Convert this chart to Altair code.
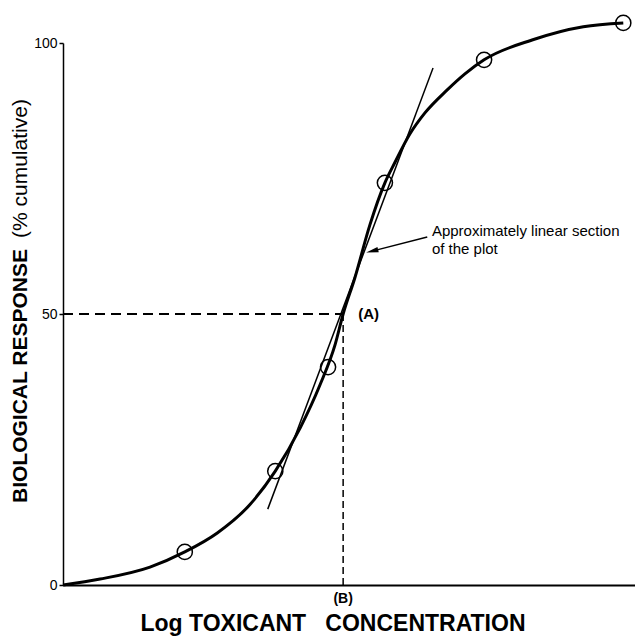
import altair as alt
import pandas as pd

# ---- data ----
curve_x = [0, 0.64, 1.50, 2.10, 2.66, 3.22, 3.66, 4.09, 4.43, 4.69, 4.83, 5.03, 5.29, 5.55,
           5.72, 5.98, 6.24, 6.62, 6.93, 7.26, 8.10, 8.97, 9.66]
curve_y = [0, 1.1, 3.3, 6.1, 9.6, 14.8, 21.0, 29.0, 36.9, 44.3, 50.0, 56.6, 66.4, 74.2,
           77.9, 83.2, 87.1, 91.3, 94.3, 96.9, 100.6, 103.0, 103.7]

obs_x = [2.10, 3.66, 4.57, 5.55, 7.26, 9.66]
obs_y = [6.1, 21.0, 40.2, 74.2, 96.9, 103.7]

tangent_x = [3.53, 6.38]
tangent_y = [14.0, 95.4]

ld50_x = 4.83
ld50_y = 50

y_ticks = [0, 50, 100]

note_lines = ["Approximately linear section", "of the plot"]
note_x = 6.36
note_y = [64.3, 61.1]
arrow_tail = (6.28, 64.2)
arrow_head = (5.33, 61.6)

label_a = "(A)"
label_b = "(B)"
x_title = "Log TOXICANT\u00a0\u00a0\u00a0CONCENTRATION"
y_title_bold = "BIOLOGICAL RESPONSE"
y_title_normal = "(% cumulative)"

FONT = "Liberation Sans"

# plot is 572 px wide; keep the reference's 58 px per x unit
x_scale = alt.Scale(domain=[0, 9.862], nice=False, zero=False)
y_scale = alt.Scale(domain=[0, 100], nice=False, zero=False)

curve_df = pd.DataFrame({"x": curve_x, "y": curve_y})
obs_df = pd.DataFrame({"x": obs_x, "y": obs_y})
tan_df = pd.DataFrame({"x": tangent_x, "y": tangent_y})

curve = alt.Chart(curve_df).mark_line(
    color="black", strokeWidth=3, interpolate="monotone"
).encode(
    x=alt.X("x:Q", scale=x_scale, axis=alt.Axis(
        title=None, labels=False, ticks=False, grid=False,
        domainColor="black", domainWidth=2)),
    y=alt.Y("y:Q", scale=y_scale, axis=alt.Axis(
        title=None, values=y_ticks, grid=False, labelFont=FONT,
        labelFontSize=14, labelColor="black", labelPadding=2,
        tickColor="black", tickSize=4, tickWidth=1.5,
        domainColor="black", domainWidth=1.5)),
)

tangent = alt.Chart(tan_df).mark_line(color="black", strokeWidth=1.5).encode(
    x=alt.X("x:Q", scale=x_scale), y=alt.Y("y:Q", scale=y_scale))

points = alt.Chart(obs_df).mark_point(
    shape="circle", size=230, filled=False, stroke="black",
    strokeWidth=1.5, opacity=1
).encode(x=alt.X("x:Q", scale=x_scale), y=alt.Y("y:Q", scale=y_scale))

hdash = alt.Chart(pd.DataFrame({"x": [0], "x2": [ld50_x], "y": [ld50_y]})).mark_rule(
    color="black", strokeWidth=2, strokeDash=[10, 6]
).encode(x=alt.X("x:Q", scale=x_scale), x2="x2:Q", y=alt.Y("y:Q", scale=y_scale))

vdash = alt.Chart(pd.DataFrame({"x": [ld50_x], "y": [0], "y2": [ld50_y]})).mark_rule(
    color="black", strokeWidth=1.5, strokeDash=[7, 4]
).encode(x=alt.X("x:Q", scale=x_scale), y=alt.Y("y:Q", scale=y_scale), y2="y2:Q")

note = alt.Chart(pd.DataFrame({"x": [note_x] * 2, "y": note_y, "t": note_lines})).mark_text(
    align="left", baseline="alphabetic", font=FONT, fontSize=15, color="black"
).encode(x=alt.X("x:Q", scale=x_scale), y=alt.Y("y:Q", scale=y_scale), text="t:N")

arrow_line = alt.Chart(pd.DataFrame({
    "x": [arrow_tail[0]], "y": [arrow_tail[1]],
    "x2": [arrow_head[0]], "y2": [arrow_head[1]]})).mark_rule(
    color="black", strokeWidth=1.5
).encode(x=alt.X("x:Q", scale=x_scale), y=alt.Y("y:Q", scale=y_scale), x2="x2:Q", y2="y2:Q")

arrow_tip = alt.Chart(pd.DataFrame({"x": [arrow_head[0]], "y": [arrow_head[1]]})).mark_point(
    shape="M0,-1L0.45,1L-0.45,1Z", size=150, filled=True, color="black",
    opacity=1, angle=256
).encode(x=alt.X("x:Q", scale=x_scale), y=alt.Y("y:Q", scale=y_scale))

lab_a = alt.Chart(pd.DataFrame({"x": [5.09], "y": [ld50_y], "t": [label_a]})).mark_text(
    align="left", baseline="middle", font=FONT, fontSize=15, fontWeight="bold", color="black"
).encode(x=alt.X("x:Q", scale=x_scale), y=alt.Y("y:Q", scale=y_scale), text="t:N")

lab_b = alt.Chart(pd.DataFrame({"x": [ld50_x], "y": [-2.6], "t": [label_b]})).mark_text(
    align="center", baseline="middle", font=FONT, fontSize=14, fontWeight="bold", color="black"
).encode(x=alt.X("x:Q", scale=x_scale), y=alt.Y("y:Q", scale=y_scale), text="t:N")

title_df = pd.DataFrame({"t": [x_title]})
xt = alt.Chart(title_df).mark_text(
    align="center", baseline="alphabetic", font=FONT, fontSize=23,
    fontWeight="bold", color="black"
).encode(x=alt.value(270), y=alt.value(588), text="t:N")

yt1 = alt.Chart(pd.DataFrame({"t": [y_title_bold]})).mark_text(
    align="left", baseline="middle", angle=270, font=FONT, fontSize=21,
    fontWeight="bold", color="black"
).encode(x=alt.value(-42), y=alt.value(460), text="t:N")

yt2 = alt.Chart(pd.DataFrame({"t": [y_title_normal]})).mark_text(
    align="left", baseline="middle", angle=270, font=FONT, fontSize=21,
    color="black"
).encode(x=alt.value(-42), y=alt.value(195), text="t:N")

chart = alt.layer(
    hdash, vdash, tangent, curve, points, arrow_line, arrow_tip,
    note, lab_a, lab_b, xt, yt1, yt2
).properties(
    width=572, height=542,
    padding={"left": 55, "top": 35, "right": 0, "bottom": 51},
    autosize=alt.AutoSizeParams(type="none"),
    background="white",
).configure_view(stroke=None)

chart.save("out.html", embed_options={"renderer": "svg", "actions": False})
